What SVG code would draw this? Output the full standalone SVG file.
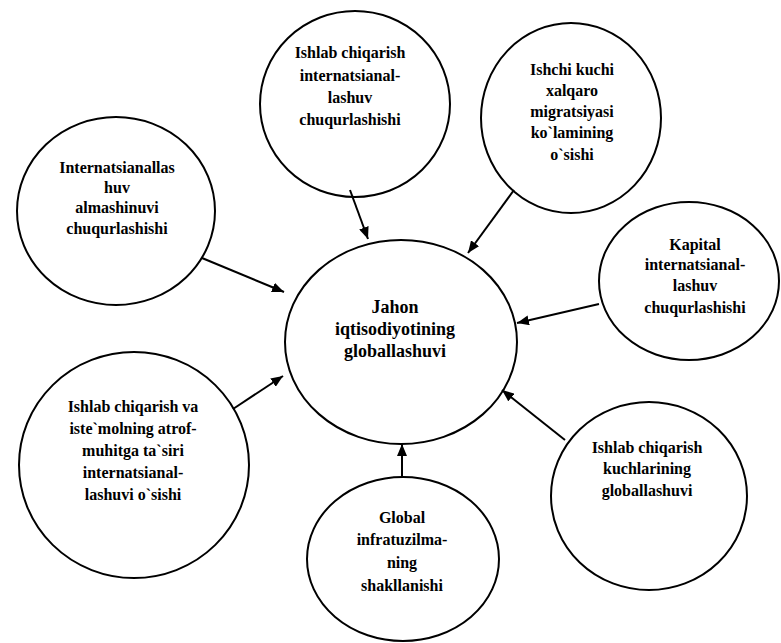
<svg xmlns="http://www.w3.org/2000/svg" width="781" height="643" viewBox="0 0 781 643">
<style>
.n{fill:#fff;stroke:#000;stroke-width:2}
.t{font-family:"Liberation Serif","Times New Roman",serif;font-size:16px;font-weight:bold;text-anchor:middle;fill:#000}
.c{font-size:18px}
.e{stroke:#000;stroke-width:2;fill:none;marker-end:url(#ah)}
</style>
<defs>
<marker id="ah" markerUnits="userSpaceOnUse" markerWidth="13" markerHeight="10" refX="12" refY="5" orient="auto">
<path d="M0,0 L12,5 L0,10 z" fill="#000"/>
</marker>
</defs>
<rect width="781" height="643" fill="#fff"/>
<g id="center">
<ellipse class="n" cx="401" cy="342" rx="116" ry="102"/>
<text class="t c" x="395" y="313">Jahon</text>
<text class="t c" x="395" y="335">iqtisodiyotining</text>
<text class="t c" x="395" y="357">globallashuvi</text>
</g>
<g id="n-top">
<ellipse class="n" cx="355" cy="104" rx="95" ry="93"/>
<text class="t" x="350" y="58">Ishlab chiqarish</text>
<text class="t" x="350" y="81">internatsianal-</text>
<text class="t" x="350" y="103">lashuv</text>
<text class="t" x="350" y="125">chuqurlashishi</text>
</g>
<g id="n-topright">
<ellipse class="n" cx="571" cy="118" rx="90" ry="95"/>
<text class="t" x="572" y="75">Ishchi kuchi</text>
<text class="t" x="572" y="96">xalqaro</text>
<text class="t" x="572" y="117">migratsiyasi</text>
<text class="t" x="572" y="138">ko`lamining</text>
<text class="t" x="572" y="160">o`sishi</text>
</g>
<g id="n-left">
<ellipse class="n" cx="116" cy="211" rx="99" ry="94"/>
<text class="t" x="117" y="173">Internatsianallas</text>
<text class="t" x="117" y="193">huv</text>
<text class="t" x="117" y="213">almashinuvi</text>
<text class="t" x="117" y="234">chuqurlashishi</text>
</g>
<g id="n-right">
<ellipse class="n" cx="689" cy="281" rx="90" ry="79"/>
<text class="t" x="695" y="250">Kapital</text>
<text class="t" x="695" y="270">internatsianal-</text>
<text class="t" x="695" y="291">lashuv</text>
<text class="t" x="695" y="313">chuqurlashishi</text>
</g>
<g id="n-bottomleft">
<ellipse class="n" cx="134" cy="465" rx="115" ry="113"/>
<text class="t" x="133" y="412">Ishlab chiqarish va</text>
<text class="t" x="133" y="434">iste`molning atrof-</text>
<text class="t" x="133" y="456">muhitga ta`siri</text>
<text class="t" x="133" y="478">internatsianal-</text>
<text class="t" x="133" y="500">lashuvi o`sishi</text>
</g>
<g id="n-bottom">
<ellipse class="n" cx="403" cy="559" rx="96" ry="82"/>
<text class="t" x="402" y="523">Global</text>
<text class="t" x="402" y="545">infratuzilma-</text>
<text class="t" x="402" y="568">ning</text>
<text class="t" x="402" y="591">shakllanishi</text>
</g>
<g id="n-bottomright">
<ellipse class="n" cx="649" cy="496" rx="98" ry="94"/>
<text class="t" x="647" y="453">Ishlab chiqarish</text>
<text class="t" x="647" y="474">kuchlarining</text>
<text class="t" x="647" y="496">globallashuvi</text>
</g>
<g id="connectors">
<line class="e" x1="350" y1="190" x2="368" y2="239"/>
<line class="e" x1="514" y1="190" x2="468" y2="253"/>
<line class="e" x1="202" y1="258" x2="284" y2="292"/>
<line class="e" x1="599" y1="304" x2="517" y2="323"/>
<line class="e" x1="233" y1="409" x2="283" y2="376"/>
<line class="e" x1="402" y1="477" x2="402" y2="444"/>
<line class="e" x1="565" y1="440" x2="502" y2="390"/>
</g>
</svg>
